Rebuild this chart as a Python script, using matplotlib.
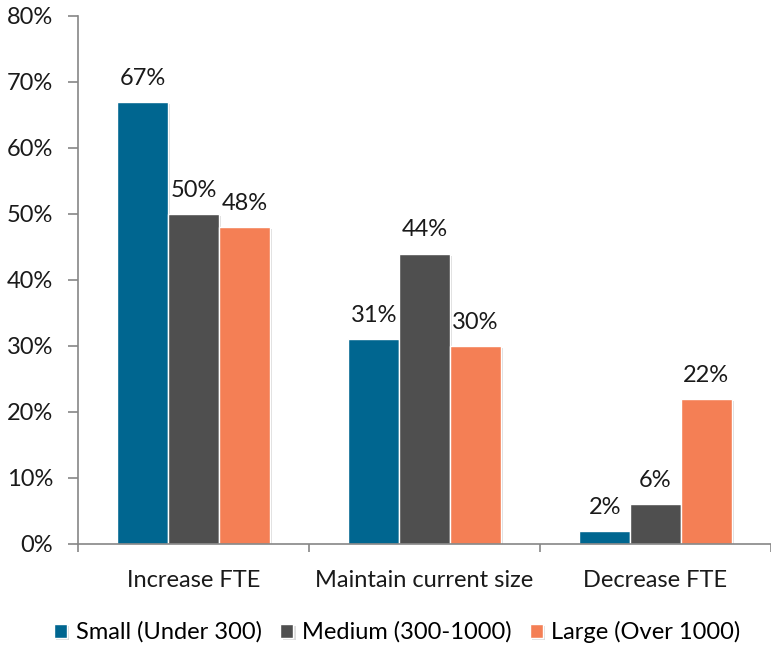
import numpy as np
import matplotlib
matplotlib.use('Agg')
import matplotlib.pyplot as plt
import matplotlib.patheffects as pe

plt.rcParams['font.family'] = ['Lato', 'DejaVu Sans']

categories = ['Increase FTE', 'Maintain current size', 'Decrease FTE']
series = ['Small (Under 300)', 'Medium (300-1000)', 'Large (Over 1000)']
small = [67, 31, 2]
medium = [50, 44, 6]
large = [48, 30, 22]
colors = ['#006690', '#4f4f4f', '#f47f55']

fs = 17

fig = plt.figure(figsize=(7.71, 6.47), dpi=100)
ax = fig.add_axes([78 / 771, 1 - 544 / 647, 693 / 771, 528 / 647])

x = np.arange(len(categories))
width = 0.22
shadow = [pe.SimplePatchShadow(offset=(1.5, -1.5), shadow_rgbFace='#bbbbbb', alpha=0.5), pe.Normal()]
for i, (vals, name) in enumerate(zip([small, medium, large], series)):
    bars = ax.bar(x + (i - 1) * width, vals, width, color=colors[i], edgecolor='white',
                  linewidth=1, label=name, path_effects=shadow)
    for b, v in zip(bars, vals):
        ax.text(b.get_x() + b.get_width() / 2, v + 2.0, f'{v}%', ha='center', va='bottom',
                fontsize=fs, color='#1a1a1a')

ax.set_xlim(-0.5, 2.5)
ax.set_ylim(0, 80)
ax.set_yticks(range(0, 81, 10))
ax.set_yticklabels([f'{v}%' for v in range(0, 81, 10)])
ax.set_xticks(x)
ax.set_xticklabels(categories)
ax.set_xticks([-0.5, 0.5, 1.5, 2.5], minor=True)
ax.tick_params(axis='x', which='major', length=0, pad=19, labelsize=fs, colors='#1a1a1a')
ax.tick_params(axis='x', which='minor', length=6, color='#868686', direction='out', width=1.2)
ax.tick_params(axis='y', length=7, width=1.2, color='#868686', labelsize=fs,
               labelcolor='#1a1a1a', pad=11)
for s in ['top', 'right']:
    ax.spines[s].set_visible(False)
for s in ['left', 'bottom']:
    ax.spines[s].set_color('#868686')
    ax.spines[s].set_linewidth(1.2)

fig.legend(loc='center', bbox_to_anchor=(0.5 + 12 / 771, 1 - 632 / 647), ncol=3, frameon=False,
           fontsize=fs, handlelength=0.55, handleheight=0.55, handletextpad=0.35,
           columnspacing=0.8)

fig.savefig('out.png', dpi=100)
